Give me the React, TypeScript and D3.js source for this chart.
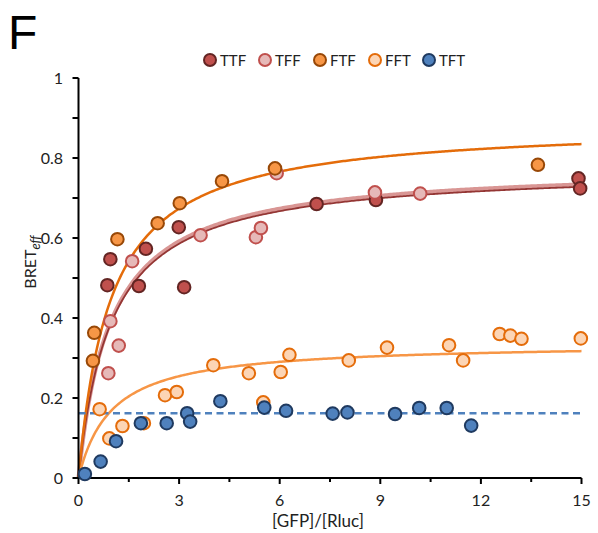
import React from "react";
import * as d3 from "d3";

const W = 598;
const H = 533;

// Data: [GFP]/[Rluc] vs BRETeff
const ttfX = [0.86, 0.95, 1.8, 2.01, 2.99, 3.15, 7.1, 8.87, 14.91, 14.96];
const ttfY = [0.482, 0.547, 0.48, 0.573, 0.627, 0.477, 0.685, 0.695, 0.749, 0.724];

const tffX = [0.89, 0.95, 1.2, 1.6, 3.64, 5.29, 5.44, 5.91, 8.84, 10.19];
const tffY = [0.262, 0.392, 0.331, 0.542, 0.607, 0.602, 0.625, 0.762, 0.714, 0.711];

const ftfX = [0.43, 0.47, 1.16, 2.36, 3.02, 4.28, 5.86, 13.7];
const ftfY = [0.293, 0.363, 0.597, 0.637, 0.687, 0.742, 0.774, 0.783];

const fftX = [0.63, 0.92, 1.31, 1.95, 2.58, 2.93, 4.02, 5.08, 5.51, 6.03, 6.29, 8.06, 9.2, 11.05, 11.47, 12.56, 12.88, 13.21, 14.98];
const fftY = [0.172, 0.099, 0.13, 0.137, 0.207, 0.215, 0.282, 0.262, 0.189, 0.265, 0.308, 0.294, 0.326, 0.332, 0.294, 0.36, 0.356, 0.348, 0.349];

const tftX = [0.19, 0.66, 1.12, 1.86, 2.63, 3.24, 3.33, 4.23, 5.54, 6.19, 7.58, 8.02, 9.44, 10.16, 10.98, 11.71];
const tftY = [0.01, 0.041, 0.092, 0.137, 0.137, 0.162, 0.141, 0.192, 0.176, 0.168, 0.161, 0.164, 0.16, 0.175, 0.175, 0.131];

// Hyperbolic fit parameters (Bmax, Kd) and TFT mean level
const ttfFit = [0.775, 0.97];
const tffFit = [0.781, 0.96];
const ftfFit = [0.888, 0.955];
const fftFit = [0.338, 0.984];
const tftLevel = 0.162;

const xTicks = [0, 3, 6, 9, 12, 15];
const xMinorTicks = [1.5, 4.5, 7.5, 10.5, 13.5];
const yTickLabels = ["0", "0.2", "0.4", "0.6", "0.8", "1"];
const yTicks = [0, 0.1, 0.2, 0.3, 0.4, 0.5, 0.6, 0.7, 0.8, 0.9, 1];

const seriesNames = ["TTF", "TFF", "FTF", "FFT", "TFT"];

const styles: Record<string, { fill: string; stroke: string }> = {
  TTF: { fill: "#c0504d", stroke: "#632523" },
  TFF: { fill: "#e6b9b8", stroke: "#c0504d" },
  FTF: { fill: "#f79646", stroke: "#984807" },
  FFT: { fill: "#fcd5b5", stroke: "#e46c0a" },
  TFT: { fill: "#4f81bd", stroke: "#1f3a60" },
};

const FONT = "Lato, 'Open Sans', sans-serif";

export default function App() {
  const left = 78.5;
  const right = 581.5;
  const top = 78;
  const bottom = 478;

  const x = d3.scaleLinear().domain([0, 15]).range([left, right]);
  const y = d3.scaleLinear().domain([0, 1]).range([bottom, top]);

  const xs = d3.range(0, 15.0001, 0.05);
  const fitLine = (p: number[]) =>
    d3
      .line<number>()
      .x((v) => x(v))
      .y((v) => y((p[0] * v) / (p[1] + v)))
      .curve(d3.curveLinear)(xs) || "";

  const series = [
    { name: "TTF", xs: ttfX, ys: ttfY },
    { name: "TFF", xs: tffX, ys: tffY },
    { name: "FTF", xs: ftfX, ys: ftfY },
    { name: "FFT", xs: fftX, ys: fftY },
    { name: "TFT", xs: tftX, ys: tftY },
  ];

  const legendX = [210, 265, 320, 375, 429];

  return (
    <svg width={W} height={H} style={{ display: "block", position: "absolute", left: 0, top: 0 }}>
      <rect width={W} height={H} fill="#fff" />
      <text x={8} y={49} fontFamily="'Liberation Sans', Arial, sans-serif" fontSize={48} fill="#000">
        F
      </text>

      {/* legend */}
      {seriesNames.map((n, i) => (
        <g key={n}>
          <circle cx={legendX[i]} cy={60} r={6} fill={styles[n].fill} stroke={styles[n].stroke} strokeWidth={2} />
          <text x={legendX[i] + 10} y={65.5} fontFamily={FONT} fontSize={15} fill="#222">
            {n}
          </text>
        </g>
      ))}

      {/* fit curves */}
      <path d={fitLine(tffFit)} fill="none" stroke="#d99694" strokeWidth={4} />
      <path d={fitLine(ttfFit)} fill="none" stroke="#943634" strokeWidth={1.8} />
      <path d={fitLine(ftfFit)} fill="none" stroke="#e46c0a" strokeWidth={2.5} />
      <path d={fitLine(fftFit)} fill="none" stroke="#f79646" strokeWidth={2.5} />
      <line
        x1={x(0)}
        x2={x(15)}
        y1={y(tftLevel)}
        y2={y(tftLevel)}
        stroke="#4f81bd"
        strokeWidth={2.5}
        strokeDasharray="7,4.5"
      />

      {/* axes */}
      <line x1={left} x2={left} y1={top} y2={bottom} stroke="#000" strokeWidth={2} />
      <line x1={left} x2={right} y1={bottom} y2={bottom} stroke="#000" strokeWidth={2} />
      {yTicks.map((t) => (
        <line key={"yt" + t} x1={left - 6} x2={left} y1={y(t)} y2={y(t)} stroke="#000" strokeWidth={2} />
      ))}
      {yTickLabels.map((l) => (
        <text
          key={"yl" + l}
          x={63}
          y={y(+l)}
          dy="0.35em"
          textAnchor="end"
          fontFamily={FONT}
          fontSize={16}
          fill="#222"
        >
          {l}
        </text>
      ))}
      {xTicks.map((t) => (
        <g key={"xt" + t}>
          <line x1={x(t)} x2={x(t)} y1={bottom} y2={bottom + 6} stroke="#000" strokeWidth={2} />
          <text x={x(t)} y={506} textAnchor="middle" fontFamily={FONT} fontSize={16} fill="#222">
            {t}
          </text>
        </g>
      ))}
      {xMinorTicks.map((t) => (
        <line key={"xm" + t} x1={x(t)} x2={x(t)} y1={bottom} y2={bottom + 4} stroke="#000" strokeWidth={2} />
      ))}
      <text x={(left + right) / 2 - 12} y={527} textAnchor="middle" fontFamily={FONT} fontSize={17} fill="#222">
        [GFP]/[Rluc]
      </text>
      <text
        transform={`translate(36, ${262}) rotate(-90)`}
        textAnchor="middle"
        fontFamily={FONT}
        fontSize={16}
        fill="#222"
      >
        BRET
        <tspan fontStyle="italic" fontSize={13} dy={4}>
          eff
        </tspan>
      </text>

      {/* markers */}
      {series.map((s) =>
        s.xs.map((xv, i) => (
          <circle
            key={s.name + i}
            cx={x(xv)}
            cy={y(s.ys[i])}
            r={6.3}
            fill={styles[s.name].fill}
            stroke={styles[s.name].stroke}
            strokeWidth={2}
          />
        ))
      )}
    </svg>
  );
}
